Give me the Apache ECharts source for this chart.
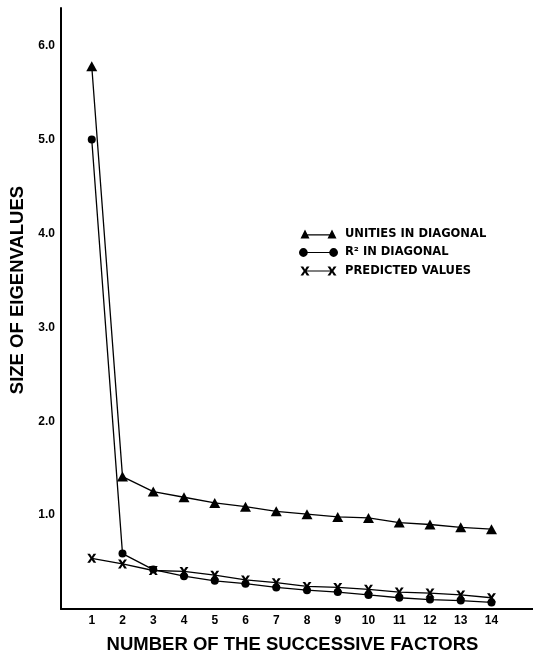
<!DOCTYPE html>
<html>
<head>
<meta charset="utf-8">
<script src="https://cdn.jsdelivr.net/npm/echarts@6/dist/echarts.min.js"></script>
<style>html,body{margin:0;padding:0;background:#fff;}#c{width:533px;height:654px;}</style>
</head>
<body>
<div id="c"></div>
<script>
const factors = [1,2,3,4,5,6,7,8,9,10,11,12,13,14];
const unities = [5.78,1.41,1.25,1.19,1.13,1.09,1.04,1.01,0.98,0.97,0.92,0.90,0.87,0.85];
const r2Diag  = [5.00,0.59,0.42,0.35,0.30,0.27,0.23,0.20,0.18,0.15,0.12,0.10,0.09,0.07];
const predicted = [0.54,0.48,0.41,0.40,0.36,0.31,0.28,0.24,0.23,0.21,0.18,0.17,0.15,0.12];
const yTickLabels = ['1.0','2.0','3.0','4.0','5.0','6.0'];
const seriesNames = ['UNITIES IN DIAGONAL','R\u00B2 IN DIAGONAL','PREDICTED VALUES'];

const pair = arr => factors.map((f,i)=>[f,arr[i]]);
const xPath = 'path://M0,0 L3,0 L5,3.2 L7,0 L10,0 L6.5,5 L10,10 L7,10 L5,6.8 L3,10 L0,10 L3.5,5 Z';
const font = '"Liberation Sans", Arial, sans-serif';
const legendFont = '"DejaVu Sans", sans-serif';

const chart = echarts.init(document.getElementById('c'), null, {renderer:'canvas'});
chart.setOption({
  animation:false,
  backgroundColor:'#fff',
  grid:{left:61,right:0,top:8,bottom:45,outerBoundsMode:'none',containLabel:false},
  xAxis:{
    type:'value', min:0, max:15.35, interval:1,
    axisLine:{show:true, lineStyle:{color:'#000', width:2}},
    axisTick:{show:false}, splitLine:{show:false},
    axisLabel:{color:'#000', fontFamily:font, fontWeight:'bold', fontSize:12, margin:6,
      formatter:v=> factors.indexOf(v)>=0 ? String(v) : ''},
    name:'NUMBER OF THE SUCCESSIVE FACTORS', nameLocation:'middle', nameGap:26,
    nameTextStyle:{color:'#000', fontFamily:font, fontWeight:'bold', fontSize:18.5, padding:[0,9,0,0]}
  },
  yAxis:{
    type:'value', min:0, max:6.4, interval:1,
    axisLine:{show:true, lineStyle:{color:'#000', width:2}},
    axisTick:{show:false}, splitLine:{show:false},
    axisLabel:{color:'#000', fontFamily:font, fontWeight:'bold', fontSize:12, margin:6,
      formatter:v=>{const i=Math.round(v)-1; return (Math.abs(v-Math.round(v))<1e-9 && i>=0 && i<yTickLabels.length)? yTickLabels[i]:'';}},
    name:'SIZE OF EIGENVALUES', nameLocation:'middle', nameGap:33,
    nameTextStyle:{color:'#000', fontFamily:font, fontWeight:'bold', fontSize:18.5, padding:[0,0,0,37]}
  },
  legend:{
    orient:'vertical', left:294, top:223, itemWidth:39, itemHeight:9, itemGap:6.5,
    textStyle:{color:'#000', fontFamily:legendFont, fontWeight:'bold', fontSize:11.5, padding:[0,0,0,2]},
    data:[
      {name:seriesNames[0], icon:'path://M0,10 L5,0 L10,10 Z M5,5.4 L35,5.4 L35,6.6 L5,6.6 Z M30,10 L35,0 L40,10 Z'},
      {name:seriesNames[1], icon:'path://M0,5 A4.5,4.5 0 1,1 9,5 A4.5,4.5 0 1,1 0,5 Z M5,4.4 L35,4.4 L35,5.6 L5,5.6 Z M31,5 A4.5,4.5 0 1,1 40,5 A4.5,4.5 0 1,1 31,5 Z'},
      {name:seriesNames[2], icon:'path://M0,0 L3,0 L5,3.2 L7,0 L10,0 L6.5,5 L10,10 L7,10 L5,6.8 L3,10 L0,10 L3.5,5 Z M5,4.4 L35,4.4 L35,5.6 L5,5.6 Z M30,0 L33,0 L35,3.2 L37,0 L40,0 L36.5,5 L40,10 L37,10 L35,6.8 L33,10 L30,10 L33.5,5 Z'}
    ]
  },
  series:[
    {name:seriesNames[0], type:'line', data:pair(unities), symbol:'triangle', symbolSize:[11,10],
      lineStyle:{color:'#000', width:1.3}, itemStyle:{color:'#000'}},
    {name:seriesNames[1], type:'line', data:pair(r2Diag), symbol:'circle', symbolSize:8,
      lineStyle:{color:'#000', width:1.3}, itemStyle:{color:'#000'}},
    {name:seriesNames[2], type:'line', data:pair(predicted), symbol:xPath, symbolSize:[9,9],
      lineStyle:{color:'#000', width:1.3}, itemStyle:{color:'#000'}}
  ]
});
</script>
</body>
</html>
